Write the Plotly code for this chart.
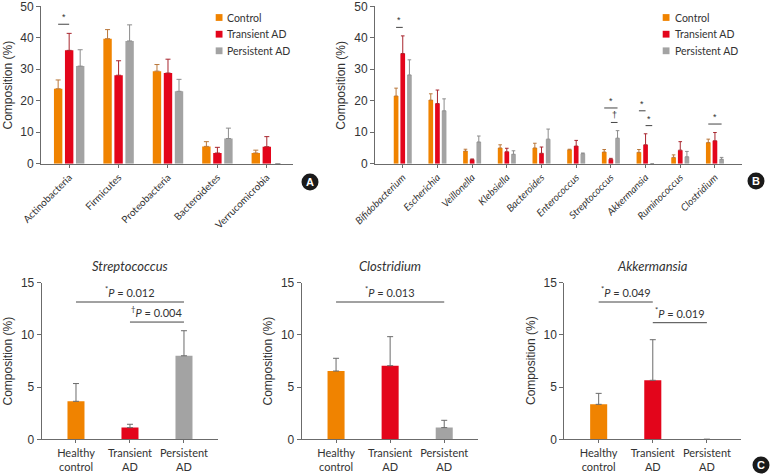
import plotly.graph_objects as go
import numpy as np

# ---------------- data ----------------
series_names = ["Control", "Transient AD", "Persistent AD"]

phyla = ["Actinobacteria", "Firmicutes", "Proteobacteria", "Bacteroidetes", "Verrucomicrobia"]
phyla_control = [23.8, 39.7, 29.4, 5.5, 3.4]
phyla_control_err = [2.8, 2.9, 2.1, 1.5, 0.9]
phyla_transient = [36.0, 28.1, 28.8, 3.4, 5.4]
phyla_transient_err = [5.4, 4.6, 4.4, 1.8, 3.2]
phyla_persistent = [31.0, 39.0, 23.0, 8.0, 0.0]
phyla_persistent_err = [5.2, 5.1, 3.8, 3.3, 0.0]

genera = ["Bifidobacterium", "Escherichia", "Veillonella", "Klebsiella", "Bacteroides",
          "Enterococcus", "Streptococcus", "Akkermansia", "Ruminococcus", "Clostridium"]
genera_control = [21.5, 20.2, 4.0, 5.0, 5.0, 4.4, 3.7, 3.6, 2.0, 6.7]
genera_control_err = [2.5, 2.0, 0.6, 1.0, 1.5, 0.2, 0.8, 0.9, 0.8, 1.1]
genera_transient = [35.0, 19.1, 1.3, 3.8, 3.3, 5.6, 1.4, 6.0, 4.3, 7.3]
genera_transient_err = [5.6, 4.3, 0.2, 1.1, 2.0, 1.8, 0.3, 3.5, 2.7, 2.6]
genera_persistent = [28.2, 16.8, 6.9, 3.0, 7.8, 3.2, 8.1, 0.0, 2.2, 1.4]
genera_persistent_err = [4.8, 3.8, 1.9, 1.1, 3.2, 0.2, 2.4, 0.0, 1.7, 0.6]

groups_c = ["Healthy<br>control", "Transient<br>AD", "Persistent<br>AD"]
strep_values = [3.64, 1.12, 8.0]
strep_err = [1.7, 0.32, 2.4]
clost_values = [6.54, 7.05, 1.12]
clost_err = [1.22, 2.78, 0.7]
akk_values = [3.35, 5.65, 0.0]
akk_err = [1.05, 3.89, 0.0]
panel_c_titles = ["Streptococcus", "Clostridium", "Akkermansia"]

# significance brackets: (category index, from series, to series, y, label)
sig_a = [(0, 0, 1, 44.3, "*")]
sig_b = [(0, 0, 1, 43.3, "*"), (6, 0, 2, 17.7, "*"), (6, 1, 2, 13.1, "†"),
         (7, 0, 1, 16.8, "*"), (7, 1, 2, 12.1, "*"), (9, 0, 2, 12.6, "*")]
# panel C: (panel index, from group, to group, y, p text, symbol)
sig_c = [(0, 0, 2, 13.15, "0.012", "*"), (0, 1, 2, 11.23, "0.004", "†"),
         (1, 0, 2, 13.15, "0.013", "*"),
         (2, 0, 1, 13.15, "0.049", "*"), (2, 1, 2, 11.17, "0.019", "*")]

# ---------------- style ----------------
colors = ["#F08300", "#E3051B", "#A3A3A3"]
err_colors = ["#B9773A", "#A8262E", "#8C8C8C"]
axis_color = "#6b6b6b"
text_color = "#333333"
num_font = "Liberation Sans, Arial, sans-serif"
lab_font = "Lato, Liberation Sans, sans-serif"
W, H = 770, 474

def fx(px):
    return px / W

def fy(py):
    return 1 - py / H

fig = go.Figure()

# ---- panel A ----
offs_a = [-0.223, 0.0, 0.223]
a_vals = [phyla_control, phyla_transient, phyla_persistent]
a_errs = [phyla_control_err, phyla_transient_err, phyla_persistent_err]
for j in range(3):
    fig.add_trace(go.Bar(
        x=np.arange(len(phyla)) + offs_a[j], y=a_vals[j], width=0.17,
        marker=dict(color=colors[j], line=dict(width=0)), name=series_names[j],
        error_y=dict(type="data", array=a_errs[j], arrayminus=[0] * len(phyla), symmetric=False,
                     color=err_colors[j], thickness=1, width=2.5),
        xaxis="x", yaxis="y", showlegend=False))

# ---- panel B ----
offs_b = [-0.192, 0.0, 0.192]
b_vals = [genera_control, genera_transient, genera_persistent]
b_errs = [genera_control_err, genera_transient_err, genera_persistent_err]
for j in range(3):
    fig.add_trace(go.Bar(
        x=np.arange(len(genera)) + offs_b[j], y=b_vals[j], width=0.135,
        marker=dict(color=colors[j], line=dict(width=0)), name=series_names[j],
        error_y=dict(type="data", array=b_errs[j], arrayminus=[0] * len(genera), symmetric=False,
                     color=err_colors[j], thickness=1, width=1.8),
        xaxis="x2", yaxis="y2", showlegend=False))

# ---- panel C ----
c_vals = [strep_values, clost_values, akk_values]
c_errs = [strep_err, clost_err, akk_err]
for k in range(3):
    fig.add_trace(go.Bar(
        x=np.arange(3), y=c_vals[k], width=0.315,
        marker=dict(color=colors, line=dict(width=0)),
        error_y=dict(type="data", array=c_errs[k], arrayminus=[0] * 3, symmetric=False,
                     color=axis_color, thickness=1, width=3),
        xaxis="x%d" % (k + 3), yaxis="y%d" % (k + 3), showlegend=False))

# ---- axes ----
def yax(domain, rng, dtick, anchor):
    return dict(domain=domain, range=rng, dtick=dtick, tick0=0, anchor=anchor, automargin=False,
                showline=True, linecolor=axis_color, linewidth=1,
                ticks="outside", ticklen=4, tickcolor=axis_color, ticklabeloverflow="allow",
                tickfont=dict(family=num_font, size=12, color=text_color),
                showgrid=False, zeroline=False, fixedrange=True)

def xax(domain, rng, anchor, tickvals, ticktext, angle, size, style="normal"):
    return dict(domain=domain, range=rng, anchor=anchor, tickvals=tickvals, ticktext=ticktext,
                tickangle=angle, automargin=False, showline=True, linecolor=axis_color, linewidth=1,
                ticks="outside", ticklen=3, tickcolor=axis_color, ticklabeloverflow="allow",
                tickfont=dict(family=lab_font, size=size, color=text_color, style=style),
                showgrid=False, zeroline=False, fixedrange=True)

top_dom = [fy(163.7), fy(6.3)]
bot_dom = [fy(439.3), fy(282.7)]
c_x_doms = [[fx(41.7), fx(218)], [fx(301.7), fx(478.3)], [fx(564.3), fx(741)]]

layout_axes = dict(
    xaxis=xax([fx(41), fx(293)], [-0.57, 4.53], "y", list(range(len(phyla))), phyla, -45, 10),
    yaxis=yax(top_dom, [0, 50], 10, "x"),
    xaxis2=xax([fx(375), fx(742)], [-0.8, 9.78], "y2", list(range(len(genera))),
               genera, -45, 10, "italic"),
    yaxis2=yax(top_dom, [0, 50], 10, "x2"),
)
for k in range(3):
    layout_axes["xaxis%d" % (k + 3)] = xax(c_x_doms[k], [-0.635, 2.63], "y%d" % (k + 3),
                                           [0, 1, 2], groups_c, 0, 11)
    layout_axes["yaxis%d" % (k + 3)] = yax(bot_dom, [0, 15], 5, "x%d" % (k + 3))

shapes = []
annotations = []

# significance brackets A / B
for sigs, offs, xr, yr in [(sig_a, offs_a, "x", "y"), (sig_b, offs_b, "x2", "y2")]:
    for (ci, s0, s1, yv, lab) in sigs:
        x0 = ci + offs[s0]
        x1 = ci + offs[s1]
        shapes.append(dict(type="line", xref=xr, yref=yr, x0=x0, x1=x1, y0=yv, y1=yv,
                           line=dict(color="#444444", width=1)))
        annotations.append(dict(xref=xr, yref=yr, x=(x0 + x1) / 2, y=yv, text=lab,
                                showarrow=False, yanchor="bottom", yshift=0,
                                font=dict(family=num_font, size=9, color=text_color)))

# significance brackets C
for (pi, g0, g1, yv, ptxt, sym) in sig_c:
    xr = "x%d" % (pi + 3)
    yr = "y%d" % (pi + 3)
    shapes.append(dict(type="line", xref=xr, yref=yr, x0=g0, x1=g1, y0=yv, y1=yv,
                       line=dict(color="#444444", width=1)))
    annotations.append(dict(xref=xr, yref=yr, x=(g0 + g1) / 2, y=yv,
                            text="<sup>%s</sup><i>P</i> = %s" % (sym, ptxt),
                            showarrow=False, yanchor="bottom", yshift=1,
                            font=dict(family=lab_font, size=11, color=text_color)))

# panel C titles
for k in range(3):
    annotations.append(dict(xref="x%d domain" % (k + 3), yref="paper", x=0.5,
                            y=fy(266), text=panel_c_titles[k], showarrow=False,
                            xanchor="center", yanchor="middle",
                            font=dict(family=lab_font, size=13, color=text_color, style="italic")))

# y axis titles
for xpx, ypx in [(7.5, 85), (340.7, 85), (7.5, 361), (267.5, 361), (531, 361)]:
    annotations.append(dict(xref="paper", yref="paper", x=fx(xpx), y=fy(ypx),
                            text="Composition (%)", textangle=-90, showarrow=False,
                            xanchor="center", yanchor="middle",
                            font=dict(family=num_font, size=12, color=text_color)))

# legends (A and B)
for sq_x, txt_x in [(215.7, 225), (662.7, 673.3)]:
    for j, ypx in enumerate([17.5, 34.2, 50.8]):
        shapes.append(dict(type="rect", xref="paper", yref="paper",
                           x0=fx(sq_x), x1=fx(sq_x + 6.8), y0=fy(ypx + 3.4), y1=fy(ypx - 3.4),
                           fillcolor=colors[j], line=dict(width=0)))
        annotations.append(dict(xref="paper", yref="paper", x=fx(txt_x), y=fy(ypx),
                                text=series_names[j], showarrow=False,
                                xanchor="left", yanchor="middle",
                                font=dict(family=lab_font, size=10.5, color=text_color)))

# panel letter badges
for letter, cx, cy in [("A", 310, 182), ("B", 756, 181), ("C", 761, 465)]:
    r = 8.5
    shapes.append(dict(type="circle", xref="paper", yref="paper",
                       x0=fx(cx - r), x1=fx(cx + r), y0=fy(cy + r), y1=fy(cy - r),
                       fillcolor="#1a1a1a", line=dict(width=0)))
    annotations.append(dict(xref="paper", yref="paper", x=fx(cx), y=fy(cy), text="<b>%s</b>" % letter,
                            showarrow=False, xanchor="center", yanchor="middle",
                            font=dict(family=num_font, size=11, color="white")))

fig.update_layout(
    width=W, height=H, margin=dict(l=0, r=0, t=0, b=0, autoexpand=False),
    paper_bgcolor="white", plot_bgcolor="white",
    barmode="overlay", showlegend=False, hovermode=False,
    shapes=shapes, annotations=annotations,
    **layout_axes,
)

fig.write_html("out.html", config={"displayModeBar": False, "staticPlot": True},
               post_script="document.body.style.margin='0px';document.body.style.overflow='hidden';")
